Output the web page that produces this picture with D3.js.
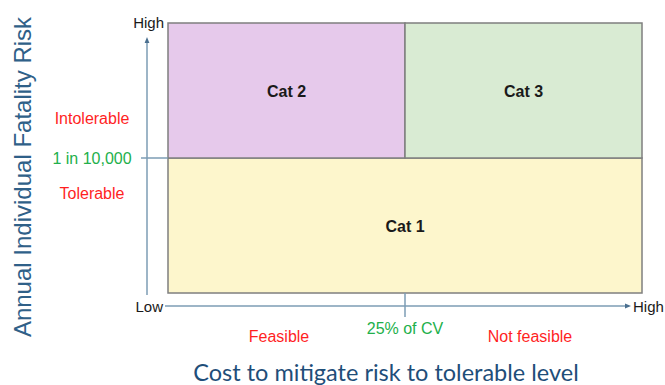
<!DOCTYPE html>
<html><head><meta charset="utf-8">
<script src="https://cdn.jsdelivr.net/npm/d3@7"></script>
<style>html,body{margin:0;padding:0;background:#fff;}svg{display:block;}</style>
</head><body>
<svg id="c" width="665" height="385"></svg>
<script>
// Data
const categories = ["Cat 1", "Cat 2", "Cat 3"];
const catX0 = [0, 0, 0.5];      // cost domain start (fraction of axis)
const catX1 = [1, 0.5, 1];
const catY0 = [0, 0.5, 0.5];    // risk domain start
const catY1 = [0.5, 1, 1];
const catColors = ["#fdf6cc", "#e6c9eb", "#d9ebd3"];
const xThreshold = 0.5, xThresholdLabel = "25% of CV";
const yThreshold = 0.5, yThresholdLabel = "1 in 10,000";
const xZoneLabels = ["Feasible", "Not feasible"];
const yZoneLabels = ["Tolerable", "Intolerable"];
const axisEnds = ["Low", "High"];
const xTitle = "Cost to mitigate risk to tolerable level";
const yTitle = "Annual Individual Fatality Risk";

const svg = d3.select("#c");
const x = d3.scaleLinear().domain([0,1]).range([168,642]);
const y = d3.scaleLinear().domain([0,1]).range([293,23]);
const axisCol = "#7c9cb4";
const red = "#ff1f1f", green = "#22b04b";
const f = "Liberation Sans, Arial";

// cells
svg.selectAll("rect.cell").data(categories).join("rect")
  .attr("x",(d,i)=>x(catX0[i])).attr("y",(d,i)=>y(catY1[i]))
  .attr("width",(d,i)=>x(catX1[i])-x(catX0[i])).attr("height",(d,i)=>y(catY0[i])-y(catY1[i]))
  .attr("fill",(d,i)=>catColors[i]).attr("stroke","#7f7f7f").attr("stroke-width",1.5);
svg.selectAll("text.cat").data(categories).join("text")
  .attr("x",(d,i)=>(x(catX0[i])+x(catX1[i]))/2).attr("y",(d,i)=>(y(catY0[i])+y(catY1[i]))/2+6)
  .attr("text-anchor","middle").attr("font-family",f).attr("font-weight","bold")
  .attr("font-size",16).attr("fill","#1a1a1a").text(d=>d);

// arrow marker
svg.append("defs").append("marker").attr("id","ar").attr("viewBox","0 0 10 10")
  .attr("refX",5).attr("refY",5).attr("markerWidth",4).attr("markerHeight",4).attr("orient","auto")
  .append("path").attr("d","M0,1 L10,5 L0,9 Z").attr("fill","#4a6f8f");

// axes
const yAxisX = 147, xAxisY = 306;
svg.append("line").attr("x1",yAxisX).attr("x2",yAxisX).attr("y1",295).attr("y2",40)
  .attr("stroke",axisCol).attr("stroke-width",1.5).attr("marker-end","url(#ar)");
svg.append("line").attr("x1",165).attr("x2",628).attr("y1",xAxisY).attr("y2",xAxisY)
  .attr("stroke",axisCol).attr("stroke-width",1.5).attr("marker-end","url(#ar)");
// threshold ticks
svg.append("line").attr("x1",141).attr("x2",x(0)).attr("y1",y(yThreshold)).attr("y2",y(yThreshold))
  .attr("stroke",axisCol).attr("stroke-width",1.5);
svg.append("line").attr("x1",x(xThreshold)).attr("x2",x(xThreshold)).attr("y1",y(0)).attr("y2",317)
  .attr("stroke",axisCol).attr("stroke-width",1.5);

function t(txt,xx,yy,col,anchor,size){
  return svg.append("text").attr("x",xx).attr("y",yy).attr("fill",col).attr("font-family",f)
    .attr("font-size",size||16).attr("text-anchor",anchor||"middle").text(txt);
}
t(axisEnds[1],164,28,"#1a1a1a","end",15);
t(axisEnds[0],163,312,"#1a1a1a","end",15);
t(axisEnds[1],633,312,"#1a1a1a","start",15);
t(yThresholdLabel,92,164,green);
t(yZoneLabels[1],92,124,red);
t(yZoneLabels[0],92,199,red);
t(xThresholdLabel,x(xThreshold),334,green);
t(xZoneLabels[0],279,342,red);
t(xZoneLabels[1],530,342,red);

// titles
svg.append("text").attr("transform","translate(31,177) rotate(-90)").attr("text-anchor","middle")
  .attr("font-family",f).attr("font-size",24).attr("fill","#2f6088").text(yTitle);
svg.append("text").attr("x",386).attr("y",381).attr("text-anchor","middle")
  .attr("font-family","Lato, Open Sans").attr("font-size",23.5).attr("fill","#1f4e79").text(xTitle);
</script>
</body></html>
